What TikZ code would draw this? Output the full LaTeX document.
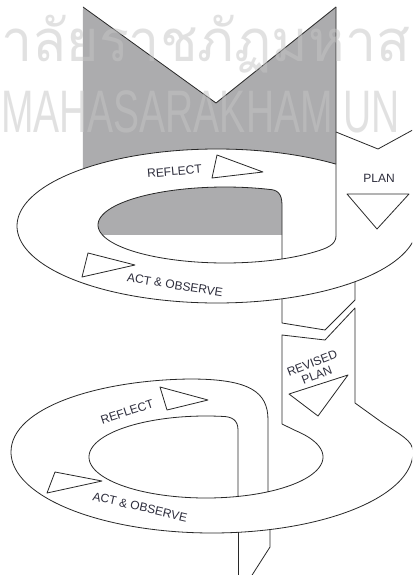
\documentclass[tikz,border=0pt]{standalone}
\usepackage{fontspec}
\usepackage{graphicx}
\setmainfont{Liberation Sans}
\newfontfamily\thaifont[Script=Thai]{Loma}
\definecolor{mgray}{RGB}{172,172,174}
\definecolor{linec}{RGB}{40,40,40}
\definecolor{txtc}{RGB}{45,45,60}
\definecolor{wmc}{RGB}{197,197,197}
\tikzset{
  ln/.style={draw=linec, line width=0.8pt, line join=round},
  tri/.style={ln, fill=white},
  lbl/.style={font=\fontsize{12}{13}\selectfont, text=txtc, inner sep=0pt, align=center},
  wm/.style={text=wmc, opacity=0.5, inner sep=0pt, anchor=base west}
}
\begin{document}
\begin{tikzpicture}[x=1pt,y=-1pt]
\useasboundingbox (0,0) rectangle (412,575);
\clip (0,0) rectangle (412,575);
\fill[white] (0,0) rectangle (412,575);

% ---------- loop 1 ----------
% gray band behind first ring
\fill[mgray] (83,7) -- (216,103) -- (336,7) -- (336,164)
  -- plot[domain=-53.5:-132.1, samples=50, variable=\t] ({217+200*cos(\t)},{226+77*sin(\t)}) -- cycle;
\draw[ln] (83,7) -- (216,103) -- (336,7);
% gray visible through the hole
\begin{scope}
  \clip (0,0) rectangle (412,234);
  \fill[mgray] (282,259) -- (282,205) .. controls (282,193) and (277,189.5) .. (268,189.3)
    -- plot[domain=-70.2:-296.7, samples=80, variable=\t] ({225+127*cos(\t)},{225+38*sin(\t)}) -- cycle;
\end{scope}
% hole outline
\draw[ln] (282,259) -- (282,205) .. controls (282,193) and (277,189.5) .. (268,189.3)
  -- plot[domain=-70.2:-296.7, samples=80, variable=\t] ({225+127*cos(\t)},{225+38*sin(\t)});
% inner bottom right joining the plan band edge
\draw[ln] plot[domain=63.3:45, samples=20, variable=\t] ({225+127*cos(\t)},{225+38*sin(\t)})
  .. controls (326,248.6) and (336,245) .. (336,236) -- (336,7);
% outer ring
\draw[ln] plot[domain=-53.5:-362, samples=160, variable=\t] ({217+200*cos(\t)},{226+77*sin(\t)});
% plan band notch
\draw[ln] (336,132) -- (378,149) -- (420,126);
% band below first ring
\draw[ln] (282,298.8) -- (282,323) -- (325,330) -- (355,300) -- (355,281.7);

% ---------- loop 2 ----------
\draw[ln] (238,496.4) -- (238,430) .. controls (238,420) and (232,416.5) .. (222,416.4)
  -- plot[domain=-82.1:-400, samples=160, variable=\t] ({206+117*cos(\t)},{457+41*sin(\t)})
  -- (282,424) -- (282,335) -- (325,340) -- (355,308) -- (355,403) -- (380,421)
  .. controls (400,435) and (413,440) .. (413,452)
  -- plot[domain=0:180, samples=120, variable=\t] ({212+201*cos(\t)},{452+81*sin(\t)})
  .. controls (11,407) and (100,380) .. (190,379)
  .. controls (250,379) and (268,392) .. (268,420) -- (268,492);
\draw[ln] (238,532.3) -- (238,580);
\draw[ln] (270,529.6) -- (270,547) -- (247,583);

% ---------- arrow triangles ----------
\draw[tri] (217,155) -- (263,172) -- (212,178) -- cycle;
\draw[tri] (347,194) -- (409,194) -- (377,229) -- cycle;
\draw[tri] (88,253) -- (135,265) -- (82,277) -- cycle;
\draw[tri] (289,394) -- (348,375) -- (318,416) -- cycle;
\draw[tri] (160,387) -- (208,400) -- (167,410) -- cycle;
\draw[tri] (55,472) -- (102,481) -- (47,493) -- cycle;

% ---------- labels ----------
\node[lbl, rotate=5] (reflect1) at (174.5,171.5) {REFLECT};
\node[lbl] (plan1) at (379,178) {PLAN};
\node[lbl, rotate=-9] (act1) at (175,285) {ACT \& OBSERVE};
\node[lbl, rotate=21] (revplan) at (314.5,369) {REVISED\\PLAN};
\node[lbl, rotate=18] (reflect2) at (127,412) {REFLECT};
\node[lbl, rotate=-13] (act2) at (140,507) {ACT \& OBSERVE};

% ---------- watermark ----------
\node[wm, font=\thaifont\fontsize{58}{58}\selectfont] (wm1) at (1,62) {\resizebox{409pt}{\height}{าลัยราชภัฏมหาส}};
\node[wm, xscale=0.65, font=\fontsize{60}{60}\selectfont] (wm2) at (1,132) {MAHASARAKHAM UN};
\end{tikzpicture}
\end{document}
